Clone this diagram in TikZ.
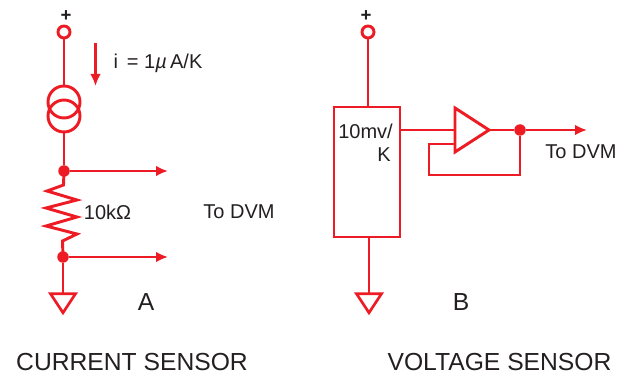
\documentclass[tikz,border=0pt]{standalone}
\usepackage{fontspec}
\setmainfont{Liberation Sans}
\usetikzlibrary{shapes.geometric,arrows.meta}
\definecolor{wire}{HTML}{ED1C24}
\definecolor{ink}{HTML}{231F20}
\begin{document}
\begin{tikzpicture}[x=0.75pt, y=-0.75pt, line width=2.2pt, terminal_style/.style={circle,draw=wire,fill=white,minimum size=12*0.75pt,inner sep=0pt,outer sep=0pt},dot_style/.style={circle,fill=wire,minimum size=11.5*0.75pt,inner sep=0pt,outer sep=0pt},source_style/.style={circle,draw=wire,minimum size=32*0.75pt,inner sep=0pt,outer sep=0pt},ground_style/.style={isosceles triangle,isosceles triangle stretches,shape border rotate=270,draw=wire,line width=2pt,minimum width=25*0.75pt,minimum height=19*0.75pt,inner sep=0pt,outer sep=0pt},box_style/.style={rectangle,draw=wire,minimum width=66*0.75pt,minimum height=130*0.75pt,inner sep=0pt,outer sep=0pt},edge_style/.style={draw=wire},arrow_style/.style={draw=wire,-{Latex[length=9pt,width=8pt]}},label_style/.style={text=ink,inner sep=0pt,font=\fontsize{15}{18}\selectfont},title_style/.style={text=ink,inner sep=0pt,font=\fontsize{18.5}{22}\selectfont},plus_style/.style={text=ink,inner sep=0pt,font=\bfseries\fontsize{14}{16}\selectfont}]
      \useasboundingbox (0,0) rectangle (628,374);
      % current sensor
      \draw
        (64,32) node[terminal_style] (plusA){}
        (64,102) node[source_style] (srcTop){}
        (64,116) node[source_style] (srcBottom){}
        (64,171) node[dot_style] (dotTop){}
        (63,257) node[dot_style] (dotBottom){}
        (63,300.5) node[ground_style] (gndA){};
      \coordinate (outTop) at (168,171);
      \coordinate (outBottom) at (168,257);
      \coordinate (iStart) at (95.5,43);
      \coordinate (iEnd) at (95.5,86);
      \begin{scope}
        \draw[edge_style] (plusA) to (srcTop);
        \draw[edge_style] (srcBottom) to (dotTop);
        \draw[arrow_style] (dotTop) to (outTop);
        \draw[arrow_style] (dotBottom) to (outBottom);
        \draw[edge_style] (dotBottom) to (gndA.north);
        \draw[arrow_style] (iStart) to (iEnd);
        \draw[edge_style] (dotTop.center) -- (63.5,185) -- (47,191) -- (77,200) -- (46,208) -- (77,217) -- (46,226) -- (77,234) -- (62.5,241) -- (dotBottom.center);
      \end{scope}
      % voltage sensor
      \draw
        (368,32) node[terminal_style] (plusB){}
        (367,172) node[box_style] (sensor){}
        (520,130) node[dot_style] (dotOut){}
        (369,300.5) node[ground_style] (gndB){};
      \coordinate (ampIn) at (455,130);
      \coordinate (ampFb) at (455,144);
      \coordinate (ampOut) at (489,130);
      \coordinate (ampTop) at (455,108);
      \coordinate (ampBottom) at (455,152);
      \coordinate (outB) at (587,130);
      \begin{scope}
        \draw[edge_style] (plusB) to (plusB |- sensor.north);
        \draw[edge_style] (sensor.east |- ampIn) to (ampIn);
        \draw[edge_style] (ampTop) -- (ampOut) -- (ampBottom) -- cycle;
        \draw[edge_style] (ampOut) to (dotOut);
        \draw[arrow_style] (dotOut) to (outB);
        \draw[edge_style] (dotOut) -- (520,175) -- (429,175) -- (429,144) -- (ampFb);
        \draw[edge_style] (sensor.south -| gndB) to (gndB.north);
      \end{scope}
      % labels
      \draw
        (66,16) node[plus_style] (plusTextA){+}
        (366,16) node[plus_style] (plusTextB){+}
        (158,63) node[label_style] (current){i\, = 1{\itshape µ}\,A/K}
        (107.5,212) node[label_style] (resistor){10kΩ}
        (239,212) node[label_style] (dvmA){To DVM}
        (146,302) node[title_style] (nameA){A}
        (132,362) node[title_style] (titleA){CURRENT SENSOR}
        (365.5,131) node[label_style] (scaleTop){10mv/}
        (384,155) node[label_style] (scaleBottom){K}
        (581,152) node[label_style] (dvmB){To DVM}
        (461,302) node[title_style] (nameB){B}
        (499.5,362) node[title_style] (titleB){VOLTAGE SENSOR};
    \end{tikzpicture}
\end{document}
